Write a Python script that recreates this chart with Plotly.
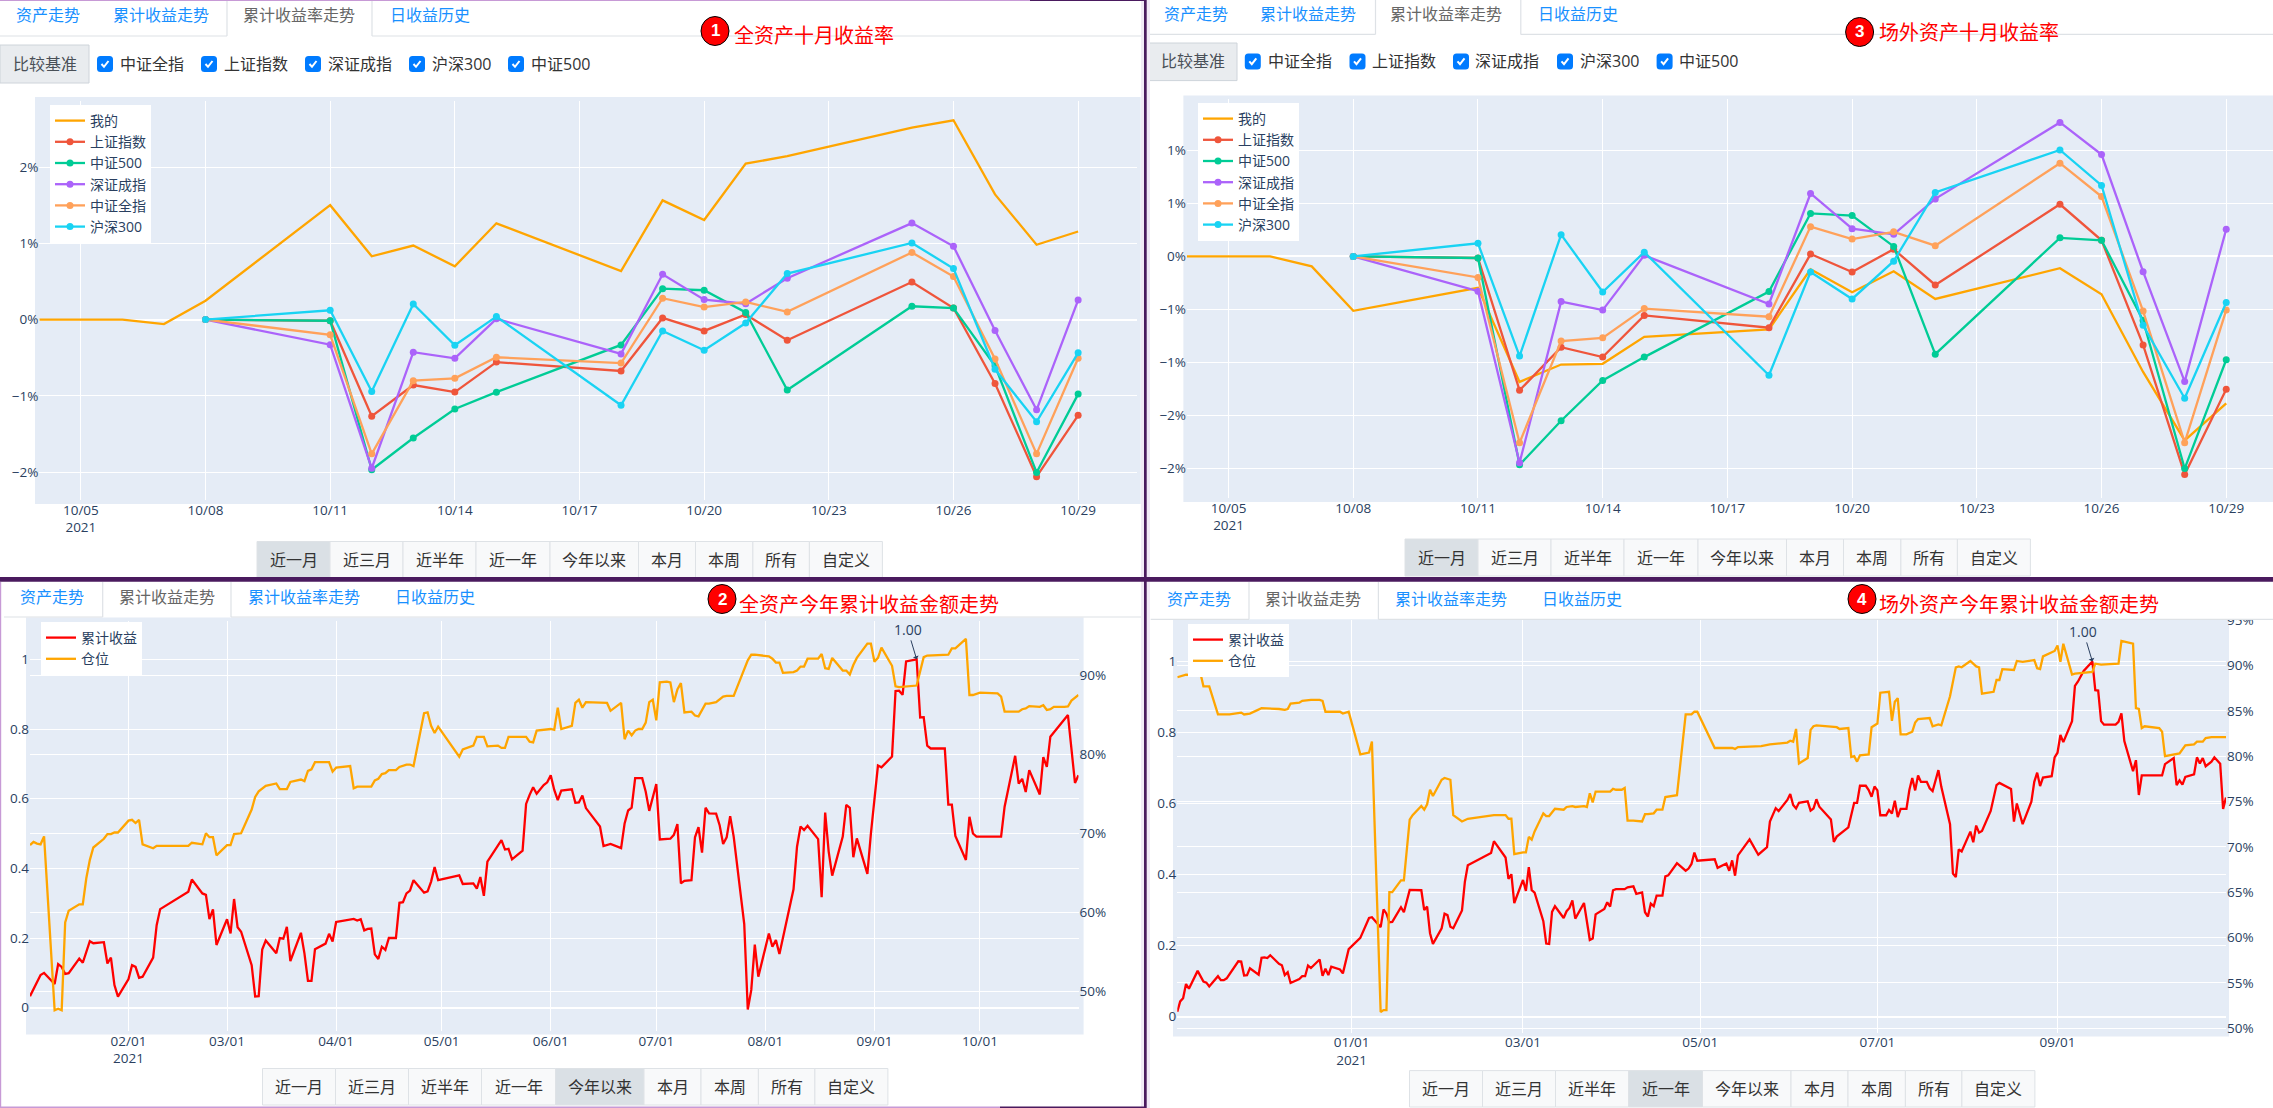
import pandas as pd
import plotly.graph_objects as go

W, H = 2273, 1108
FONT = '"Open Sans", "Noto Sans CJK SC", sans-serif'
INK = "#2a3f5f"

# ---------- data ----------
oct_dates = ["2021-10-08", "2021-10-11", "2021-10-12", "2021-10-13", "2021-10-14", "2021-10-15", "2021-10-18",
             "2021-10-19", "2021-10-20", "2021-10-21", "2021-10-22", "2021-10-25", "2021-10-26", "2021-10-27",
             "2021-10-28", "2021-10-29"]
mine_dates = ["2021-10-04", "2021-10-05", "2021-10-06", "2021-10-07"] + oct_dates

sh_index = [0, -.015, -1.265, -.857, -.950, -.557, -.673, .022, -.148, .068, -.270, .492, .152, -.836, -2.059, -1.254]
zz500 = [0, -.015, -1.968, -1.552, -1.171, -.951, -.332, .406, .385, .094, -.923, .175, .152, -.605, -2.003, -.976]
sz_index = [0, -.328, -1.948, -.427, -.507, .010, -.449, .594, .262, .208, .543, 1.265, .962, -.144, -1.182, .256]
zz_all = [0, -.199, -1.759, -.800, -.769, -.493, -.570, .281, .164, .232, .101, .880, .565, -.516, -1.759, -.507]
hs300 = [0, .123, -.941, .205, -.336, .040, -1.122, -.148, -.402, -.045, .604, 1.005, .670, -.651, -1.339, -.435]

mine_all = [0, 0, 0, -.058, .248, 1.50, .830, .971, .699, 1.262, .636, 1.563, 1.306, 2.044, 2.141, 2.515, 2.612,
            1.641, .981, 1.155]
mine_otc = [0, 0, 0, -.094, -.514, -.297, -1.185, -1.021, -1.014, -.759, -.689, -.122, -.339, -.140, -.402, -.112,
            -.357, -1.091, -1.738, -1.388]

# (day of 2021, cumulative return)
return_all = [(4,.033),(7,.094),(8,.100),(11,.068),(12,.125),(13,.117),(14,.097),(15,.099),(18,.141),(19,.129),(21,.191),
(22,.185),(25,.188),(26,.127),(27,.144),(28,.065),(29,.032),(32,.082),(33,.122),(34,.117),(35,.086),(36,.089),(39,.144),
(40,.237),(41,.283),(49,.333),(50,.368),(53,.328),(54,.324),(55,.254),(56,.282),(57,.180),(60,.254),(61,.213),(62,.312),
(63,.231),(64,.218),(67,.122),(68,.032),(69,.033),(70,.167),(71,.193),(74,.156),(75,.200),(76,.198),(77,.232),(78,.134),
(81,.215),(82,.156),(83,.077),(84,.077),(85,.168),(88,.184),(89,.212),(90,.190),(91,.246),(92,.248),(96,.255),(97,.250),
(98,.254),(99,.222),(100,.226),(101,.227),(102,.153),(103,.140),(104,.175),(105,.166),(106,.200),(108,.200),(109,.301),
(110,.303),(111,.328),(112,.336),(113,.366),(116,.330),(117,.334),(118,.362),(119,.404),(120,.366),(126,.380),(127,.355),
(130,.357),(131,.342),(132,.375),(133,.321),(134,.419),(138,.481),(139,.454),(140,.456),(141,.426),(144,.451),(145,.585),
(146,.611),(147,.633),(148,.614),(150,.639),(151,.647),(152,.667),(153,.625),(154,.596),(155,.623),(158,.627),(159,.588),
(160,.589),(161,.609),(162,.573),(166,.520),(167,.464),(169,.470),(172,.458),(173,.529),(174,.566),(175,.574),(176,.659),
(178,.659),(179,.620),(180,.565),(182,.642),(183,.483),(186,.485),(187,.496),(188,.527),(189,.357),(190,.364),(192,.366),
(193,.489),(194,.518),(195,.445),(196,.574),(197,.558),(199,.557),(200,.524),(201,.470),(202,.489),(203,.550),(204,.491),
(207,.240),(208,-.005),(209,.051),(210,.181),(211,.089),(214,.213),(215,.175),(216,.194),(217,.154),(221,.340),(222,.462),
(223,.520),(224,.510),(225,.522),(228,.484),(229,.317),(230,.560),(231,.448),(232,.379),(235,.491),(236,.582),(237,.574),
(238,.432),(239,.486),(242,.384),(243,.500),(245,.695),(246,.690),(249,.721),(250,.909),(251,.910),(252,.898),(253,.994),
(256,1.00),(257,.833),(258,.834),(259,.752),(260,.744),(264,.744),(265,.583),(266,.583),(267,.493),(270,.424),(271,.548),
(272,.500),(273,.491),(280,.491),(281,.577),(284,.723),(285,.643),(286,.657),(287,.619),(288,.682),(291,.612),(292,.719),
(293,.691),(294,.778),(298,.829),(299,.840),(301,.645),(302,.667)]

# (day of 2021, position %)
position_all = [(4,68.5),(5,68.9),(6,68.7),(7,68.6),(8,69.6),(11,47.6),(12,47.8),(13,47.6),(14,58.7),(15,60.2),(18,61.0),
(19,61.0),(20,64.3),(21,66.6),(22,68.2),(25,69.3),(26,69.9),(27,69.9),(28,70.1),(29,70.1),(32,71.6),(33,71.7),(34,71.3),
(35,71.7),(36,68.6),(39,68.1),(40,68.4),(49,68.4),(50,68.8),(53,68.6),(54,70.0),(55,69.5),(56,69.5),(57,67.2),(60,68.5),
(61,68.5),(62,69.9),(64,70.0),(67,73.0),(68,74.6),(69,75.3),(71,76.0),(74,76.3),(75,75.6),(77,75.6),(78,76.5),(81,76.8),
(82,76.6),(83,77.9),(84,78.1),(85,79.0),(89,79.0),(90,77.8),(91,78.3),(95,78.5),(96,75.7),(97,75.9),(101,75.9),(102,76.7),
(103,76.9),(104,77.5),(105,77.6),(106,78.0),(108,78.0),(109,78.4),(111,78.7),(112,78.7),(113,78.5),(116,85.2),(117,85.3),
(118,83.6),(119,82.7),(120,83.5),(126,79.7),(127,80.6),(130,81.1),(131,82.2),(132,82.2),(133,82.2),(134,81.0),(137,81.1),
(138,80.8),(139,80.8),(140,82.2),(145,82.2),(146,81.6),(147,81.5),(148,83.0),(150,83.1),(152,83.2),(153,83.1),(154,85.9),
(155,83.2),(158,83.6),(159,86.5),(160,86.9),(161,85.9),(162,86.6),(168,86.5),(169,85.5),(172,86.5),(173,81.9),(174,83.0),
(175,82.4),(176,83.0),(177,83.2),(178,83.2),(179,84.0),(180,86.6),(181,86.9),(182,84.3),(183,89.1),(185,89.2),(186,89.1),
(187,86.6),(188,88.2),(189,89.0),(190,85.3),(192,85.4),(193,84.9),(194,84.8),(196,86.4),(197,86.4),(199,86.6),(201,87.3),
(202,87.4),(204,87.4),(208,91.9),(209,92.6),(210,92.6),(214,92.4),(215,92.1),(216,91.6),(217,91.6),(218,90.3),(221,90.4),
(222,90.6),(223,91.1),(224,91.1),(225,92.1),(228,92.1),(229,92.7),(230,90.9),(231,90.8),(232,92.2),(235,90.6),(236,90.6),
(237,90.1),(238,91.3),(239,92.2),(242,94.0),(243,94.0),(244,91.7),(245,92.2),(246,93.5),(249,91.2),(250,88.6),(251,88.5),
(256,88.7),(257,90.7),(258,92.3),(259,92.5),(265,92.6),(266,93.4),(267,93.4),(270,94.6),(271,87.5),(272,87.5),(274,87.8),
(279,87.7),(280,87.3),(281,85.4),(285,85.4),(286,85.7),(287,85.8),(288,86.1),(291,86.0),(292,86.2),(293,85.6),(294,85.7),
(295,86.0),(298,86.0),(299,86.05),(300,86.8),(302,87.5)]

return_otc = [(-59,.014),(-58,.043),(-57,.052),(-56,.092),(-55,.079),(-52,.129),(-50,.099),(-49,.096),(-48,.085),(-45,.114),
(-44,.103),(-43,.103),(-42,.108),(-38,.156),(-37,.155),(-36,.116),(-35,.117),(-34,.136),(-31,.118),(-30,.166),(-29,.167),
(-28,.165),(-27,.173),(-24,.149),(-23,.145),(-22,.117),(-21,.125),(-20,.095),(-17,.106),(-16,.114),(-15,.114),(-14,.144),
(-13,.137),(-10,.161),(-9,.115),(-8,.135),(-7,.117),(-6,.141),(-3,.133),(-2,.122),(0,.190),(4,.222),(7,.278),(8,.280),
(11,.252),(12,.302),(13,.290),(14,.266),(15,.267),(18,.308),(19,.294),(20,.324),(21,.357),(25,.356),(26,.300),(27,.310),
(28,.235),(29,.205),(32,.249),(33,.290),(34,.286),(35,.253),(36,.249),(39,.299),(40,.380),(41,.426),(49,.461),(50,.494),
(54,.448),(55,.388),(56,.401),(57,.320),(60,.385),(61,.354),(62,.421),(63,.356),(64,.349),(67,.269),(68,.206),(69,.205),
(70,.295),(71,.311),(74,.278),(75,.297),(76,.306),(77,.327),(78,.276),(81,.320),(83,.216),(84,.220),(85,.288),(88,.303),
(89,.322),(90,.310),(91,.356),(92,.359),(95,.359),(96,.364),(98,.367),(99,.346),(101,.350),(102,.294),(103,.282),(104,.318),
(105,.311),(106,.341),(108,.341),(109,.395),(110,.398),(113,.432),(116,.411),(117,.417),(118,.430),(119,.462),(120,.439),
(126,.443),(127,.419),(130,.431),(131,.411),(132,.440),(133,.397),(134,.454),(138,.499),(141,.456),(144,.477),(145,.549),
(147,.587),(148,.579),(151,.610),(152,.627),(153,.596),(154,.586),(155,.602),(158,.606),(159,.580),(160,.586),(161,.612),
(162,.591),(166,.555),(167,.492),(168,.507),(172,.533),(174,.602),(175,.602),(176,.650),(178,.650),(179,.638),(180,.619),
(181,.648),(182,.637),(183,.567),(185,.567),(186,.582),(187,.572),(188,.608),(189,.562),(190,.585),(192,.585),(193,.638),
(194,.672),(195,.637),(196,.679),(197,.661),(199,.661),(200,.643),(201,.635),(203,.694),(204,.647),(207,.542),(208,.403),
(209,.393),(210,.471),(211,.465),(214,.521),(215,.491),(216,.538),(217,.518),(218,.523),(221,.579),(223,.652),(224,.658),
(228,.641),(229,.549),(230,.600),(232,.542),(235,.605),(236,.661),(237,.687),(238,.649),(239,.673),(242,.677),(243,.730),
(244,.743),(245,.793),(246,.773),(249,.832),(250,.931),(251,.943),(253,.973),(256,1.00),(257,.919),(258,.918),(259,.832),
(260,.822),(264,.822),(265,.830),(266,.854),(267,.776),(270,.691),(271,.722),(272,.624),(273,.679),(280,.679),(281,.711),
(284,.728),(285,.652),(286,.665),(287,.653),(288,.675),(291,.682),(292,.730),(293,.713),(294,.728),(295,.705),(297,.718),
(298,.730),(300,.712),(301,.585),(302,.617)]

position_otc = [(-59,88.7),(-56,89.0),(-52,88.9),(-51,89.1),(-50,87.7),(-48,87.7),(-45,84.6),(-41,84.6),(-37,84.8),(-36,84.6),
(-34,84.7),(-30,85.3),(-24,85.2),(-22,85.1),(-21,85.2),(-20,85.8),(-17,85.9),(-16,86.1),(-13,86.2),(-10,86.2),(-9,86.1),
(-8,84.9),(-6,84.9),(-3,84.9),(-2,84.7),(0,84.9),(4,80.2),(7,80.4),(8,81.6),(11,51.8),(12,52.0),(13,52.0),(14,65.0),(15,65.0),
(18,66.3),(19,66.3),(21,73.0),(22,73.5),(25,74.5),(26,74.1),(27,74.7),(28,76.3),(29,75.6),(32,77.4),(33,77.6),(35,77.4),
(36,73.5),(39,72.8),(41,73.1),(49,73.4),(50,73.5),(54,73.5),(55,73.1),(56,73.1),(57,69.2),(60,69.4),(61,69.4),(62,71.1),
(63,70.8),(64,71.7),(67,73.7),(68,73.4),(69,73.4),(71,74.2),(74,74.1),(75,74.4),(77,74.5),(78,74.4),(81,74.5),(82,74.4),
(83,75.9),(84,74.9),(85,76.1),(90,76.1),(91,76.4),(92,76.3),(94,76.3),(95,76.5),(96,72.9),(98,72.9),(101,72.8),(102,73.6),
(103,73.6),(105,73.7),(106,74.1),(108,74.1),(109,75.5),(113,75.7),(116,84.6),(118,84.6),(119,84.9),(120,84.9),(126,80.9),
(130,80.9),(131,80.9),(132,80.9),(133,80.8),(134,81.0),(142,81.1),(144,81.2),(145,81.3),(151,81.5),(152,81.7),(153,81.6),
(154,83.0),(155,79.2),(158,79.8),(159,82.9),(160,83.3),(161,83.4),(166,83.3),(167,83.2),(168,83.2),(169,83.0),(172,83.1),
(173,79.9),(174,80.0),(175,79.4),(176,80.1),(179,80.2),(180,83.2),(182,83.6),(183,87.0),(186,87.1),(187,83.9),(188,86.0),
(189,86.4),(190,82.4),(192,82.4),(194,82.7),(195,83.7),(196,84.1),(200,84.2),(201,83.3),(203,83.5),(204,83.4),(207,86.6),
(209,89.8),(210,89.9),(211,89.8),(214,90.5),(216,89.9),(217,89.8),(218,86.9),(222,87.1),(223,88.4),(224,88.4),(225,89.6),
(229,89.5),(230,90.5),(232,90.4),(236,90.6),(237,89.7),(238,89.6),(239,91.0),(243,91.6),(244,92.2),(245,90.4),(246,92.4),
(249,89.0),(250,89.1),(256,89.3),(257,90.2),(259,90.1),(265,90.2),(266,92.7),(270,92.4),(271,85.3),(272,85.2),(273,83.1),
(274,83.3),(279,83.1),(280,82.7),(281,80.0),(286,80.3),(288,81.2),(291,81.3),(292,81.6),(294,81.6),(295,82.0),(297,82.1),
(299,82.1),(302,82.1)]

tab_labels = ["资产走势", "累计收益走势", "累计收益率走势", "日收益历史"]
benchmark_labels = ["中证全指", "上证指数", "深证成指", "沪深300", "中证500"]
range_labels = ["近一月", "近三月", "近半年", "近一年", "今年以来", "本月", "本周", "所有", "自定义"]
titles = ["全资产十月收益率", "全资产今年累计收益金额走势", "场外资产十月收益率", "场外资产今年累计收益金额走势"]
peak_label = "1.00"
peak_all = ("2021-09-13", 1.00)
peak_otc = ("2021-09-13", 1.00)


def day(n):
    return pd.Timestamp("2021-01-01") + pd.Timedelta(days=n - 1)


def px(v):
    return v / W


def py(v):
    return 1 - v / H


def split(pairs, scale=1.0):
    return [day(p[0]) for p in pairs], [p[1] * scale for p in pairs]


fig = go.Figure()
PCT = 0.01
COLORS = ["#EF553B", "#00CC96", "#AB63FA", "#FFA15A", "#19D3F3"]
NAMES = ["上证指数", "中证500", "深证成指", "中证全指", "沪深300"]
SERIES = [sh_index, zz500, sz_index, zz_all, hs300]


def add_rate(mine, xa, ya, leg):
    fig.add_trace(go.Scatter(x=mine_dates, y=[v * PCT for v in mine], name="我的", mode="lines",
                             line=dict(color="#FFA500", width=2.3), xaxis=xa, yaxis=ya, legend=leg))
    for n, c, s in zip(NAMES, COLORS, SERIES):
        fig.add_trace(go.Scatter(x=oct_dates, y=[v * PCT for v in s], name=n, mode="lines+markers",
                                 line=dict(color=c, width=2.3), marker=dict(size=7, color=c),
                                 xaxis=xa, yaxis=ya, legend=leg))


def add_cum(ret, pos, xa, ya, ya2, leg):
    dx, dy = split(ret)
    fig.add_trace(go.Scatter(x=dx, y=dy, name="累计收益", mode="lines", line=dict(color="#FF0000", width=2.3),
                             xaxis=xa, yaxis=ya, legend=leg))
    dx, dy = split(pos, PCT)
    fig.add_trace(go.Scatter(x=dx, y=dy, name="仓位", mode="lines", line=dict(color="#FFA500", width=2.3),
                             xaxis=xa, yaxis=ya2, legend=leg))


add_rate(mine_all, "x", "y", "legend")
add_cum(return_all, position_all, "x2", "y2", "y5", "legend2")
add_rate(mine_otc, "x3", "y3", "legend3")
add_cum(return_otc, position_otc, "x4", "y4", "y6", "legend4")

tickfont = dict(size=13.5, color=INK, family=FONT)
common_x = dict(gridcolor="white", gridwidth=1.15, showgrid=True, zeroline=False, automargin=False,
                ticks="", tickfont=tickfont, tickformat="%m/%d\n%Y")
common_y = dict(gridcolor="white", gridwidth=1.15, showgrid=True, zeroline=True, zerolinecolor="white",
                zerolinewidth=2.3, automargin=False, ticks="", tickfont=tickfont)


def dom(a, b, size):
    return [a / size, b / size]


def ydom(top, bottom):
    return [1 - bottom / H, 1 - top / H]


layout = dict(
    width=W, height=H, autosize=False, margin=dict(l=0, r=0, t=0, b=0, pad=0),
    paper_bgcolor="white", plot_bgcolor="#E5ECF6", font=dict(family=FONT, color=INK, size=14),
    xaxis=dict(common_x, domain=dom(39.3, 1137, W), anchor="y", range=["2021-10-04", "2021-10-30 10:00"],
               dtick=3 * 86400000, tick0="2021-10-05"),
    yaxis=dict(common_y, domain=ydom(101, 500), anchor="x", range=[-.02364, .02865], dtick=.01, tickformat=".0%"),
    xaxis2=dict(common_x, domain=dom(30, 1078.5, W), anchor="y2", range=[day(4), day(302)],
                dtick="M1", tick0="2021-01-01"),
    yaxis2=dict(common_y, domain=ydom(621, 1031), anchor="x2", range=[-.0669, 1.110], dtick=.2),
    yaxis5=dict(common_y, domain=ydom(621, 1031), anchor="x2", overlaying="y2", side="right",
                range=[.4497, .9687], dtick=.1, tickformat=".0%", zeroline=False),
    xaxis3=dict(common_x, domain=dom(1187, 2273, W), anchor="y3", range=["2021-10-04", "2021-10-30 03:00"],
                dtick=3 * 86400000, tick0="2021-10-05"),
    yaxis3=dict(common_y, domain=ydom(99, 498.3), anchor="x3", range=[-.02284, .01486], dtick=.005, tickformat=".0%"),
    xaxis4=dict(common_x, domain=dom(1177.3, 2226, W), anchor="y4", range=[day(-59), day(302)],
                dtick="M2", tick0="2021-01-01"),
    yaxis4=dict(common_y, domain=ydom(619.5, 1032.7), anchor="x4", range=[-.045, 1.118], dtick=.2),
    yaxis6=dict(common_y, domain=ydom(619.5, 1032.7), anchor="x4", overlaying="y4", side="right",
                range=[.4951, .9507], dtick=.05, tickformat=".0%", zeroline=False),
)


def legend_at(x, y):
    return dict(x=px(x), y=py(y), xanchor="left", yanchor="top", bgcolor="white", borderwidth=0,
                font=dict(size=14, color=INK, family=FONT), tracegroupgap=0, traceorder="normal")


layout["legend"] = legend_at(50, 105)
layout["legend2"] = legend_at(41, 622)
layout["legend3"] = legend_at(1198, 103)
layout["legend4"] = legend_at(1188, 624)

shapes = []
annots = []
LINE = "#dee2e6"


def rect(x0, y0, x1, y1, fill, line=None, layer="above", lw=1):
    shapes.append(dict(type="rect", xref="paper", yref="paper", x0=px(x0), x1=px(x1), y0=py(y0), y1=py(y1),
                       fillcolor=fill, line=dict(color=line or fill, width=lw if line else 0), layer=layer))


def seg(x0, y0, x1, y1, color=LINE, lw=1.2):
    shapes.append(dict(type="line", xref="paper", yref="paper", x0=px(x0), x1=px(x1), y0=py(y0), y1=py(y1),
                       line=dict(color=color, width=lw), layer="above"))


def text(x, y, s, size=16, color="#333333", anchor="left", family=FONT, bold=False):
    if anchor == "left":
        x -= 3  # annotation box padding
    annots.append(dict(xref="paper", yref="paper", x=px(x), y=py(y), text=f"<b>{s}</b>" if bold else s,
                       showarrow=False, xanchor=anchor, yanchor="middle",
                       font=dict(size=size, color=color, family=family)))


def rounded(x0, y0, x1, y1, r, fill):
    X0, X1, Y0, Y1 = px(x0), px(x1), py(y0), py(y1)
    rx, ry = r / W, r / H
    p = (f"M{X0+rx},{Y0} L{X1-rx},{Y0} Q{X1},{Y0} {X1},{Y0-ry} L{X1},{Y1+ry} Q{X1},{Y1} {X1-rx},{Y1} "
         f"L{X0+rx},{Y1} Q{X0},{Y1} {X0},{Y1+ry} L{X0},{Y0-ry} Q{X0},{Y0} {X0+rx},{Y0} Z")
    shapes.append(dict(type="path", xref="paper", yref="paper", path=p, fillcolor=fill,
                       line=dict(width=0), layer="above"))


# plot backgrounds, slightly larger than the axes
rect(35, 97, 1140.7, 504, "#E5ECF6", layer="below")
rect(26, 617.5, 1083.6, 1034.5, "#E5ECF6", layer="below")
rect(1183.4, 95.4, 2273, 502, "#E5ECF6", layer="below")
rect(1173, 616, 2229, 1036.6, "#E5ECF6", layer="below")


def tabs(x0, x1, top, line_y, text_y, xs, active, tl, tr):
    rect(x0, top, x1, line_y, "white")
    seg(x0, line_y, tl, line_y)
    seg(tr, line_y, x1, line_y)
    seg(tl, top, tl, line_y)
    seg(tr, top, tr, line_y)
    for i, (lab, x) in enumerate(zip(tab_labels, xs)):
        text(x, text_y, lab, 16, "#666666" if i == active else "#1890ff")


tabs(0, 1141, 1, 36, 15.5, [17, 114, 244, 391], 2, 227, 372)
tabs(1150, 2273, 0, 34.4, 14, [1164.6, 1261.4, 1391.4, 1539], 2, 1375.5, 1520.8)
tabs(4, 1141, 582, 617, 597, [21, 120, 249, 395.6], 1, 102.7, 231)
tabs(1150.7, 2273, 582, 619.3, 599, [1168, 1266.4, 1395.8, 1542.5], 1, 1249, 1378.4)


def compare(x0, x1, y0, y1, cbs, labs, cy):
    rect(x0, y0, x1, y1, "#e9ecef", "#ced4da")
    text((x0 + x1) / 2, cy, "比较基准", 16, "#495057", "center")
    for cb, lx, lab in zip(cbs, labs, benchmark_labels):
        rounded(cb, cy - 8, cb + 16, cy + 8, 3.5, "#007bff")
        X = [px(cb + 4.5), px(cb + 7), px(cb + 11.5)]
        Y = [py(cy), py(cy + 2.8), py(cy - 3)]
        shapes.append(dict(type="path", xref="paper", yref="paper",
                           path=f"M{X[0]},{Y[0]} L{X[1]},{Y[1]} L{X[2]},{Y[2]}",
                           line=dict(color="white", width=2), layer="above"))
        text(lx, cy, lab, 16, "#333333")


compare(0, 89, 45, 83, [97, 201, 305, 409, 508], [121, 225, 329, 433, 532], 64)
compare(1148, 1237, 43, 80.6, [1244.8, 1349.5, 1453, 1557, 1656.6], [1268.6, 1372.6, 1476, 1580.7, 1679.7], 61.4)

WIDTHS = [73, 73, 73, 74, 88.5, 57, 57.4, 56.5, 73]


def buttons(x0, y0, y1, active):
    x = x0
    for i, (lab, w) in enumerate(zip(range_labels, WIDTHS)):
        rect(x, y0, x + w, y1, "#dae0e5" if i == active else "#f8f9fa", "#dee2e6")
        text(x + w / 2, (y0 + y1) / 2 + .5, lab, 16, "#333333", "center")
        x += w


buttons(257, 541.5, 578, 0)
buttons(262.5, 1068.5, 1105, 4)
buttons(1405, 539, 576, 0)
buttons(1409.5, 1070.6, 1107, 3)


def badge(cx, cy, n, tx, ty, title):
    shapes.append(dict(type="circle", xref="paper", yref="paper", x0=px(cx - 14), x1=px(cx + 14), y0=py(cy + 14.5),
                       y1=py(cy - 14.5), fillcolor="#FF0000", line=dict(color="black", width=1), layer="above"))
    text(cx, cy, str(n), 17, "white", "center", "Liberation Sans", True)
    text(tx, ty, title, 20, "#FF0000")


badge(715, 31, 1, 734.5, 35, titles[0])
badge(722, 599, 2, 740, 604, titles[1])
badge(1859.6, 32, 3, 1880, 32.5, titles[2])
badge(1862, 599, 4, 1880, 604.6, titles[3])

# frame between the four captures
PURPLE = "#4a1a5e"
rect(1141, 0, 1150, H, "#f1e9f6")
rect(0, 577, W, 581.7, PURPLE)
rect(1144, 0, 1146.7, H, PURPLE)
rect(0, 0, 1030, 1, "#c79ad6")
rect(1030, 0, 1144, 1, PURPLE)
rect(0, 582, 1.2, H, "#c79ad6")
rect(0, 1106.5, 1000, 1108, "#c79ad6")
rect(1000, 1106.5, 1144, 1108, PURPLE)

for (x, y), xa, ya in [(peak_all, "x2", "y2"), (peak_otc, "x4", "y4")]:
    annots.append(dict(x=x, y=y, xref=xa, yref=ya, text=peak_label, showarrow=True, arrowhead=1, arrowwidth=1,
                       arrowcolor=INK, ax=-9, ay=-30, font=dict(size=14, color=INK, family=FONT)))

layout["shapes"] = shapes
layout["annotations"] = annots
fig.update_layout(**layout)

fig.write_html("out.html", config=dict(displayModeBar=False),
               post_script="document.body.style.margin='0';document.documentElement.style.overflow='hidden';")
